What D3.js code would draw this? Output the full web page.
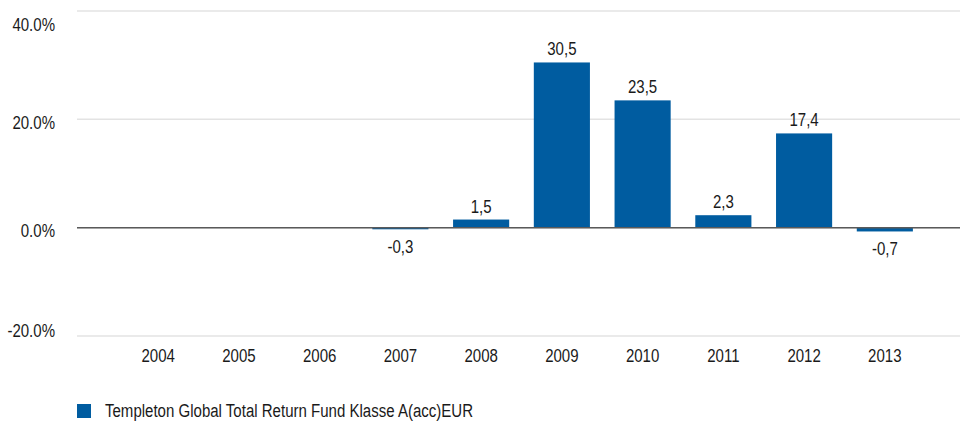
<!DOCTYPE html>
<html>
<head>
<meta charset="utf-8">
<script src="https://cdn.jsdelivr.net/npm/d3@7"></script>
<style>
  body { margin: 0; background: #fff; }
  text { font-family: "Liberation Sans", Arial, sans-serif; font-size: 18px; fill: #1a1a1a; }
</style>
</head>
<body>
<svg id="chart" width="960" height="421"></svg>
<script>
// yearly returns, % (no data before 2007)
var years = ["2004", "2005", "2006", "2007", "2008", "2009", "2010", "2011", "2012", "2013"];
var returns = [null, null, null, -0.3, 1.5, 30.5, 23.5, 2.3, 17.4, -0.7];
var yTicks = [-20, 0, 20, 40];
var seriesName = "Templeton Global Total Return Fund Klasse A(acc)EUR";

var barColor = "#005ca0";
var squeeze = 0.835; // the original font is a bit condensed
var svg = d3.select("#chart");

var x = d3.scaleBand().domain(years).range([118, 925]).paddingInner(0.305).paddingOuter(0.15);
var y = d3.scaleLinear().domain([-20, 40]).range([336, 11]);

// put a text at (px,py) squeezed horizontally
function label(parent, px, py, anchor, txt, dy) {
    return parent.append("text")
        .attr("transform", "translate(" + px + "," + py + ") scale(" + squeeze + ",1)")
        .attr("text-anchor", anchor)
        .attr("dy", dy || "0.35em")
        .text(txt);
}

// gridlines + y labels
var grid = svg.append("g");
grid.selectAll("line").data(yTicks).enter().append("line")
    .attr("x1", 77).attr("x2", 960)
    .attr("y1", function(d) { return y(d); })
    .attr("y2", function(d) { return y(d); })
    .attr("stroke", "#e3e3e3")
    .attr("stroke-width", 1.5);

// labels sit a little below their line, but are kept inside the plot
yTicks.forEach(function(t) {
    var ly = Math.min(Math.max(y(t) + 3.5, 25), 331);
    label(grid, 55, ly, "end", t.toFixed(1) + "%");
});

var data = years.map(function(yr, i) { return { year: yr, value: returns[i] }; })
    .filter(function(d) { return d.value !== null; });

svg.append("g").selectAll("rect").data(data).enter().append("rect")
    .attr("x", function(d) { return x(d.year); })
    .attr("width", x.bandwidth())
    .attr("y", function(d) { return y(Math.max(0, d.value)); })
    .attr("height", function(d) { return Math.abs(y(d.value) - y(0)); })
    .attr("fill", barColor);

// zero line on top of bars
svg.append("line")
    .attr("x1", 77).attr("x2", 960)
    .attr("y1", y(0)).attr("y2", y(0))
    .attr("stroke", "#5a5a5a")
    .attr("stroke-width", 1.5);

// value labels
var vals = svg.append("g");
data.forEach(function(d) {
    var cx = x(d.year) + x.bandwidth() / 2;
    var cy = d.value >= 0 ? y(d.value) - 7 : y(d.value) + 24;
    label(vals, cx, cy, "middle", String(d.value).replace(".", ","), "0");
});

// x axis labels
var xAxis = d3.axisBottom(x).tickSize(0).tickPadding(0);
var gx = svg.append("g").attr("transform", "translate(0,349)").call(xAxis);
gx.select(".domain").remove();
gx.selectAll("text")
    .style("font-size", "18px").style("font-family", null).attr("fill", null)
    .attr("dy", "0.71em")
    .attr("transform", "scale(" + squeeze + ",1)");

// legend
var legend = svg.append("g").attr("transform", "translate(77,404)");
legend.append("rect").attr("width", 14).attr("height", 14).attr("fill", barColor);
label(legend, 28, 7, "start", seriesName);
</script>
</body>
</html>
